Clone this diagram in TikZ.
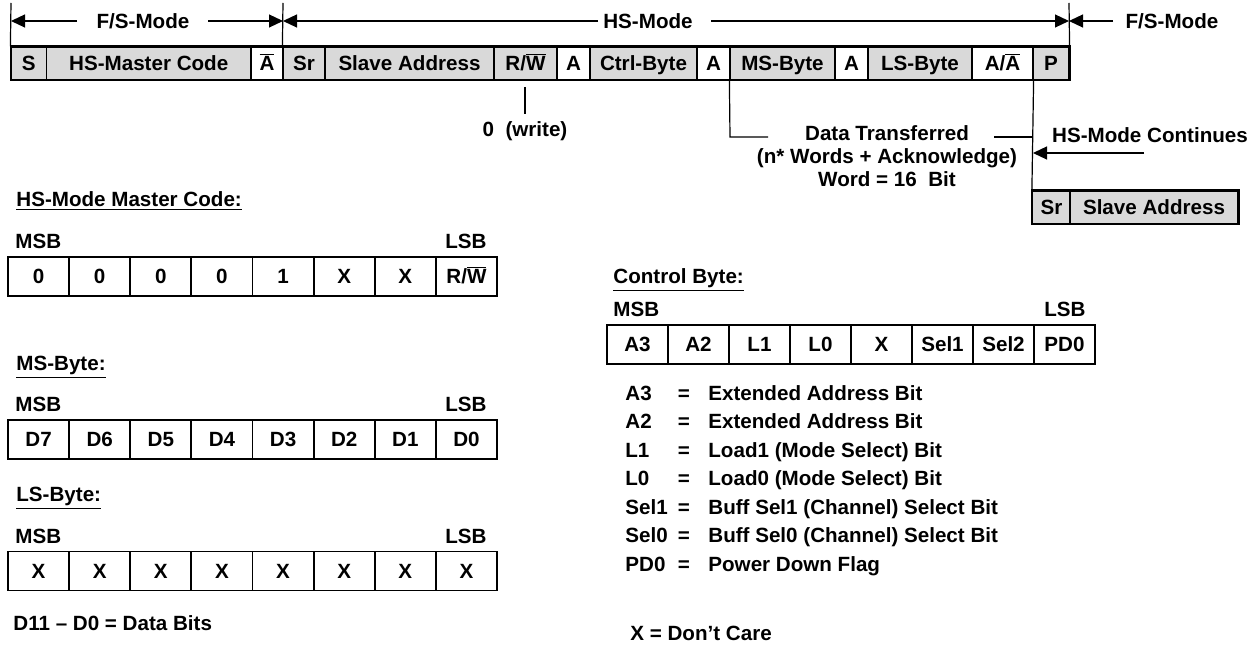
\documentclass[tikz,border=0pt]{standalone}
\usepackage{fontspec}
\setmainfont{Liberation Sans}
\usetikzlibrary{arrows.meta}
\definecolor{cellgray}{RGB}{217,217,217}
\newcommand\ovl[1]{$\overline{\mbox{#1}}$}
\newcommand\RWbar{R/\ovl{W}}
\newcommand\AAbar{A/\ovl{A}}
\newcommand\Abar{\ovl{A}}
\begin{document}
\begin{tikzpicture}[x=0.5pt,y=-0.5pt,
  every node/.style={font=\fontsize{10.3}{12}\selectfont\bfseries, inner sep=0pt, text height=7.4pt, text depth=0pt},
  barcell/.style={draw=black, line width=0.6pt, minimum height=16.5pt},
  rcell/.style={draw=black, line width=0.9pt, minimum width=30.56pt, minimum height=19.5pt, fill=white},
  lbl/.style={anchor=west},
  lblr/.style={anchor=east},
  thinl/.style={line width=0.6pt},
  tri/.style={thinl, -{Triangle[length=7pt,width=6.5pt]}},
]
\useasboundingbox (0,0) rectangle (1260,646);

% ---------- top frame ----------
\foreach \a/\b/\t/\f [count=\i] in {11/46.5/S/cellgray, 46.5/251/HS-Master Code/cellgray, 251/283/\Abar/white, 283/325/Sr/cellgray, 325/494/Slave Address/cellgray, 494/557/\RWbar/cellgray, 557/590/A/white, 590/697/Ctrl-Byte/cellgray, 697/730/A/white, 730/835/MS-Byte/cellgray, 835/868/A/white, 868/972/LS-Byte/cellgray, 972/1033/\AAbar/white, 1033/1069/P/cellgray}
  \node[barcell, fill=\f, minimum width={(\b-\a)*0.5pt}] (bc\i) at ({(\a+\b)/2},63.5) {\t};
\draw[line width=0.9pt] (bc1.north west) rectangle (bc14.south east);

% mode ticks
\coordinate (k1) at (11,3);
\coordinate (k2) at (283,3);
\coordinate (k3) at (1069,3);
\draw[thinl] (k1) -- (bc1.north west);
\draw[thinl] (k2) -- (bc4.north west);
\draw[thinl] (k3) -- (bc14.north east);

% mode arrows
\coordinate (p1) at (11,21);
\coordinate (p2) at (77,21);
\node (fs1) at (143,21) {F/S-Mode};
\coordinate (p3) at (208,21);
\coordinate (p4) at (283,21);
\coordinate (p5) at (598,21);
\node (hsm) at (648,21) {HS-Mode};
\coordinate (p6) at (711,21);
\coordinate (p7) at (1069,21);
\coordinate (p8) at (1113,21);
\node (fs2) at (1172,21) {F/S-Mode};
\draw[tri] (p2) -- (p1);
\draw[tri] (p3) -- (p4);
\draw[tri] (p5) -- (p4);
\draw[tri] (p6) -- (p7);
\draw[tri] (p8) -- (p7);

% R/W annotation
\coordinate (rw1) at (525,87);
\coordinate (rw2) at (525,114);
\draw[thinl] (rw1) -- (rw2);
\node (wr) at (525,129) {0\ \ (write)};

% data transferred
\coordinate (ms1) at (730,137);
\coordinate (ms2) at (768,137);
\draw[thinl] (bc10.south west) -- (ms1) -- (ms2);
\node (dt1) at (887,133) {Data Transferred};
\node (dt2) at (887,156) {(n* Words + Acknowledge)};
\node (dt3) at (887,179) {Word = 16\ \ Bit};
\coordinate (r1) at (994,137);
\coordinate (r2) at (1033,137);
\draw[thinl] (r1) -- (r2);

% HS-mode continues
\node[barcell, fill=cellgray, minimum width=19pt] (sr1) at (1051.5,207.5) {Sr};
\node[barcell, fill=cellgray, minimum width=84pt] (sr2) at (1154,207.5) {Slave Address};
\draw[line width=0.9pt] (sr1.north west) rectangle (sr2.south east);
\draw[thinl] (bc13.south east) -- (sr1.north west);
\node (hsc) at (1150,135) {HS-Mode Continues};
\coordinate (hc1) at (1144,153);
\coordinate (hc2) at (1033,153);
\draw[tri] (hc1) -- (hc2);

% ---------- HS-Mode master code ----------
\node[lbl] (lhm) at (16,199) {\underline{HS-Mode Master Code:}};
\node[lbl] (hmM) at (15,241) {MSB};
\node[lblr] (hmL) at (487,241) {LSB};
\foreach \t [count=\i] in {0,0,0,0,1,X,X,\RWbar}
  \node[rcell] (hm\i) at ({8+61.125*(\i-0.5)},276.5) {\t};

% ---------- MS-Byte ----------
\node[lbl] (lms) at (16,363) {\underline{MS-Byte:}};
\node[lbl] (msM) at (15,404) {MSB};
\node[lblr] (msL) at (487,404) {LSB};
\foreach \t [count=\i] in {D7,D6,D5,D4,D3,D2,D1,D0}
  \node[rcell] (msb\i) at ({8+61.125*(\i-0.5)},439.5) {\t};

% ---------- LS-Byte ----------
\node[lbl] (lls) at (16,494) {\underline{LS-Byte:}};
\node[lbl] (lsM) at (15,536) {MSB};
\node[lblr] (lsL) at (487,536) {LSB};
\foreach \t [count=\i] in {X,X,X,X,X,X,X,X}
  \node[rcell] (lsb\i) at ({8+61.125*(\i-0.5)},571) {\t};
\node[lbl] (dbits) at (13,623) {D11 -- D0 = Data Bits};

% ---------- Control byte ----------
\node[lbl] (lcb) at (613,276) {\underline{Control Byte:}};
\node[lbl] (cbM) at (613,309) {MSB};
\node[lblr] (cbL) at (1086,309) {LSB};
\foreach \t [count=\i] in {A3,A2,L1,L0,X,Sel1,Sel2,PD0}
  \node[rcell] (cb\i) at ({607+61*(\i-0.5)},344.5) {\t};

\foreach \k/\v [count=\i] in {A3/Extended Address Bit, A2/Extended Address Bit, L1/Load1 (Mode Select) Bit, L0/Load0 (Mode Select) Bit, Sel1/Buff Sel1 (Channel) Select Bit, Sel0/Buff Sel0 (Channel) Select Bit, PD0/Power Down Flag}
{
  \node[lbl] (lgk\i) at (625,{393+28.5*(\i-1)}) {\k};
  \node (lge\i) at (684,{393+28.5*(\i-1)}) {=};
  \node[lbl] (lgv\i) at (708,{393+28.5*(\i-1)}) {\v};
}
\node[lbl] (dc) at (630,633) {X = Don’t Care};
\end{tikzpicture}
\end{document}
